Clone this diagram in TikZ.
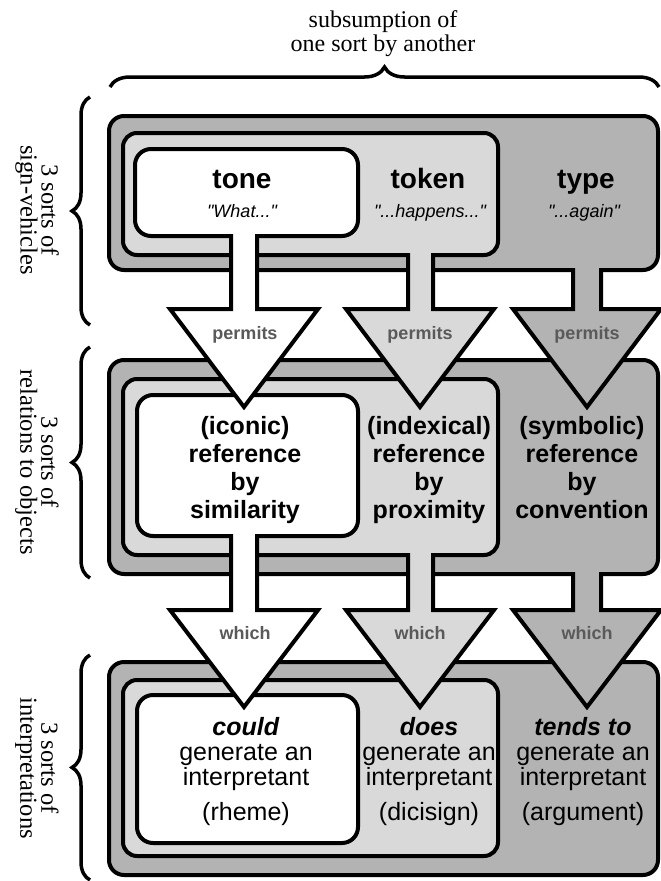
\documentclass[tikz,border=0pt]{standalone}
\usepackage{fontspec}
\setmainfont{Liberation Serif}
\setsansfont{Liberation Sans}
\usetikzlibrary{decorations.pathreplacing}

\definecolor{palesort}{HTML}{D9D9D9}
\definecolor{darksort}{HTML}{B3B3B3}
\definecolor{verbgray}{HTML}{5A5A5A}

\begin{document}
\begin{tikzpicture}[x=1pt, y=-1pt, line width=4pt, line join=miter,
    every node/.style={align=center, inner sep=0pt},
    outerbox/.style={draw, fill=darksort, rounded corners=15pt},
    midbox/.style={draw, fill=palesort, rounded corners=14pt},
    innerbox/.style={draw, fill=white, rounded corners=16pt},
    sortarrow/.style={draw, miter limit=10},
    verb/.style={font=\sffamily\bfseries\fontsize{18}{20}\selectfont, text=verbgray, anchor=base},
    sortname/.style={font=\sffamily\bfseries\fontsize{28}{30}\selectfont, anchor=base},
    gloss/.style={font=\sffamily\itshape\fontsize{18}{20}\selectfont, anchor=base},
    relation/.style={font=\sffamily\bfseries\fontsize{25}{28}\selectfont},
    interp/.style={font=\sffamily\fontsize{25}{25}\selectfont},
    sidelabel/.style={font=\fontsize{24.5}{21}\selectfont, rotate=-90},
    sortbrace/.style={draw, line width=3.5pt, decorate, decoration={brace, amplitude=18pt}}]

\useasboundingbox (0,0) rectangle (661,881);

% three nested boxes per row
\draw[outerbox] (109,116) rectangle (658,270);
\draw[midbox]   (123,133) rectangle (498,255);
\draw[innerbox] (135,149) rectangle (358,236);

\draw[outerbox] (109,360) rectangle (658,574);
\draw[midbox]   (123,379) rectangle (498,555);
\draw[innerbox] (137,395) rectangle (358,536);

\draw[outerbox] (109,662) rectangle (658,875);
\draw[midbox]   (123,680) rectangle (498,856);
\draw[innerbox] (137,695) rectangle (358,843);

% arrows from sign-vehicles to relations
\filldraw[sortarrow, fill=white] (231,234) -- (231,309) -- (170,309) -- (244,407) -- (318,309) -- (257,309) -- (257,234);
\filldraw[sortarrow, fill=palesort] (408,253) -- (408,309) -- (346,309) -- (420,407) -- (494,309) -- (433,309) -- (433,253);
\filldraw[sortarrow, fill=darksort] (573,268) -- (573,309) -- (513,309) -- (587,407) -- (661,309) -- (601,309) -- (601,268);

% arrows from relations to interpretations
\filldraw[sortarrow, fill=white] (231,534) -- (231,610) -- (170,610) -- (244,707) -- (318,610) -- (257,610) -- (257,534);
\filldraw[sortarrow, fill=palesort] (408,553) -- (408,610) -- (346,610) -- (420,707) -- (494,610) -- (433,610) -- (433,553);
\filldraw[sortarrow, fill=darksort] (573,572) -- (573,610) -- (513,610) -- (587,707) -- (661,610) -- (601,610) -- (601,572);

% arrow labels
\node[verb] (permits1) at (245,339) {permits};
\node[verb] (permits2) at (420,339) {permits};
\node[verb] (permits3) at (587,339) {permits};
\node[verb] (which1) at (245,639) {which};
\node[verb] (which2) at (420,639) {which};
\node[verb] (which3) at (587,639) {which};

% sign-vehicles
\node[sortname] (tone) at (242,188) {tone};
\node[sortname] (token) at (428,188) {token};
\node[sortname] (type) at (586,188) {type};
\node[gloss] (tonegloss) at (242,217) {\textquotedbl What...\textquotedbl};
\node[gloss] (tokengloss) at (430,217) {\textquotedbl...happens...\textquotedbl};
\node[gloss] (typegloss) at (584,217) {\textquotedbl...again\textquotedbl};

% relations to objects
\node[relation] (iconic) at (245,470) {(iconic)\\reference\\by\\similarity};
\node[relation] (indexical) at (429,470) {(indexical)\\reference\\by\\proximity};
\node[relation] (symbolic) at (582,468) {(symbolic)\\reference\\by\\convention};

% interpretations
\node[interp] (rheme) at (246,772) {\textbf{\textit{could}}\\generate an\\interpretant\\[10pt](rheme)};
\node[interp] (dicisign) at (429,772) {\textbf{\textit{does}}\\generate an\\interpretant\\[10pt](dicisign)};
\node[interp] (argument) at (583,772) {\textbf{\textit{tends to}}\\generate an\\interpretant\\[10pt](argument)};

% braces and their labels
\coordinate (topl) at (110,87);
\coordinate (topr) at (659,87);
\draw[sortbrace, decoration={amplitude=20pt}] (topl) -- (topr);
\node[font=\fontsize{24}{24}\selectfont] (subsumption) at (383,34) {subsumption of\\one sort by another};

\coordinate (vehb) at (90,325);
\coordinate (veht) at (90,97);
\draw[sortbrace] (vehb) -- (veht);
\node[sidelabel] (vehlabel) at (37,210) {3 sorts of\\sign-vehicles};

\coordinate (relb) at (90,578);
\coordinate (relt) at (90,347);
\draw[sortbrace] (relb) -- (relt);
\node[sidelabel] (rellabel) at (37,462) {3 sorts of\\relations to objects};

\coordinate (intb) at (90,880);
\coordinate (intt) at (90,655);
\draw[sortbrace] (intb) -- (intt);
\node[sidelabel] (intlabel) at (37,768) {3 sorts of\\interpretations};

\end{tikzpicture}
\end{document}
